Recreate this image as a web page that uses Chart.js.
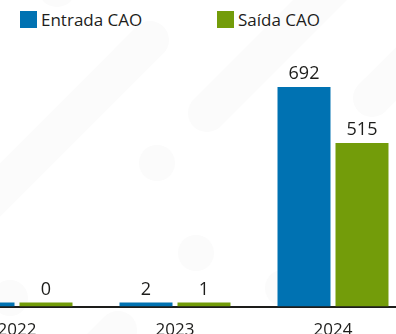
<!DOCTYPE html>
<html lang="pt">
<head>
<meta charset="utf-8">
<title>Entrada e saída CAO</title>
<script src="https://cdn.jsdelivr.net/npm/chart.js@4/dist/chart.umd.min.js"></script>
<style>
  html, body { margin: 0; padding: 0; background: #fff; }
  body {
    width: 396px;
    height: 334px;
    overflow: hidden;
    position: relative;
    font-family: "Open Sans", sans-serif;
    color: #1d1d1b;
  }
  #bg { position: absolute; left: 0; top: 0; }
  .legend-item {
    position: absolute;
    top: 11px;
    display: flex;
    align-items: center;
    font-size: 17px;
    line-height: 17px;
    white-space: nowrap;
  }
  .legend-item:nth-child(1) { left: 20px; }
  .legend-item:nth-child(2) { left: 217px; }
  .legend-box { width: 17px; height: 17px; margin-right: 4px; }
  #chart-wrap { position: absolute; left: -62px; top: 0; }
</style>
</head>
<body>
<svg id="bg" width="396" height="334">
  <g stroke="#fbfbfb" stroke-width="38" stroke-linecap="round" fill="none">
    <line x1="-80" y1="270" x2="150" y2="40" />
    <line x1="207" y1="113" x2="360" y2="-40" />
    <line x1="57" y1="-12" x2="140" y2="-95" />
    <line x1="450" y1="20" x2="372" y2="98" />
    <line x1="118" y1="330" x2="60" y2="388" />
  </g>
  <g fill="#fbfbfb">
    <circle cx="157" cy="163" r="18" />
    <circle cx="196" cy="253" r="18" />
    <circle cx="283" cy="288" r="18" />
    <circle cx="10" cy="298" r="18" />
  </g>
</svg>
<div id="legend"></div>
<div id="chart-wrap"><canvas id="chart" width="474" height="353"></canvas></div>
<script>
const years = ["2022", "2023", "2024"];
const entradas = [0, 2, 692];
const saidas = [0, 1, 515];

const FONT = '"Open Sans", sans-serif';
const TEXT_COLOR = "#1d1d1b";
const BLUE = "#0072b2";
const GREEN = "#739c0a";

// Number above each bar, taken from the dataset value itself.
const valueLabels = {
  id: "valueLabels",
  afterDatasetsDraw(chart) {
    const { ctx } = chart;
    ctx.save();
    ctx.font = `18px ${FONT}`;
    ctx.fillStyle = TEXT_COLOR;
    ctx.textAlign = "center";
    ctx.textBaseline = "alphabetic";
    chart.data.datasets.forEach((dataset, i) => {
      chart.getDatasetMeta(i).data.forEach((bar, j) => {
        ctx.fillText(String(dataset.data[j]), bar.x, bar.y - 8);
      });
    });
    ctx.restore();
  },
};

const datasets = [
  { label: "Entrada CAO", data: entradas, backgroundColor: BLUE },
  { label: "Saída CAO", data: saidas, backgroundColor: GREEN },
].map((d) => ({
  ...d,
  barPercentage: 0.914,
  categoryPercentage: 0.734,
  minBarLength: 4,
}));

const chart = new Chart(document.getElementById("chart"), {
  type: "bar",
  data: { labels: years, datasets },
  plugins: [valueLabels],
  options: {
    responsive: false,
    animation: false,
    layout: { padding: { top: 59, left: 0, right: 0, bottom: 0 } },
    scales: {
      x: {
        grid: { display: false, drawTicks: false },
        border: { display: true, color: TEXT_COLOR, width: 2 },
        ticks: { color: TEXT_COLOR, font: { family: FONT, size: 17 }, padding: 13 },
      },
      y: { display: false, min: 0, max: 780 },
    },
    plugins: {
      legend: { display: false },
      tooltip: { enabled: false },
    },
  },
});

// HTML legend built from the datasets
const legendEl = document.getElementById("legend");
for (const d of chart.data.datasets) {
  const item = document.createElement("div");
  item.className = "legend-item";
  const box = document.createElement("span");
  box.className = "legend-box";
  box.style.background = d.backgroundColor;
  item.append(box, document.createTextNode(d.label));
  legendEl.append(item);
}
</script>
</body>
</html>
